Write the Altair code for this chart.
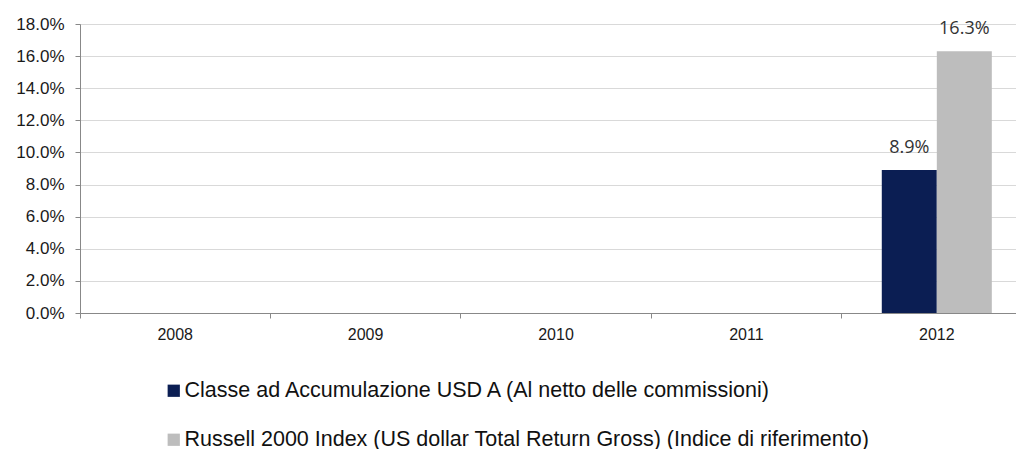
import altair as alt
import pandas as pd

years = ["2008", "2009", "2010", "2011", "2012"]
series = [
    "Classe ad Accumulazione USD A (Al netto delle commissioni)",
    "Russell 2000 Index (US dollar Total Return Gross) (Indice di riferimento)",
]
fund_values = [None, None, None, None, 0.089]
index_values = [None, None, None, None, 0.163]
colors = ["#0B1E53", "#BDBDBD"]
y_ticks = [0.0, 0.02, 0.04, 0.06, 0.08, 0.10, 0.12, 0.14, 0.16, 0.18]

rows = []
for i, y in enumerate(years):
    rows.append({"year": y, "series": series[0], "value": fund_values[i]})
    rows.append({"year": y, "series": series[1], "value": index_values[i]})
df = pd.DataFrame(rows)

x_scale = alt.Scale(domain=years, range=[0, 952], paddingInner=0, paddingOuter=0)
y_scale = alt.Scale(domain=[0, 0.18], nice=False, zero=True)

x_enc = alt.X(
    "year:N",
    scale=x_scale,
    axis=alt.Axis(
        title=None,
        labelAngle=0,
        bandPosition=0,
        ticks=True,
        tickSize=5,
        tickColor="#888888",
        domainColor="#888888",
        labelFont="Liberation Sans",
        labelFontSize=16,
        labelColor="#1a1a1a",
        labelPadding=8,
        grid=False,
    ),
)
xoff = alt.XOffset(
    "series:N",
    sort=series,
    scale=alt.Scale(domain=series, paddingInner=0, paddingOuter=0.73),
)
y_enc = alt.Y(
    "value:Q",
    scale=y_scale,
    axis=alt.Axis(
        title=None,
        values=y_ticks,
        format=".1%",
        labelOverlap=False,
        tickSize=5,
        tickColor="#888888",
        domainColor="#888888",
        gridColor="#d9d9d9",
        labelFont="Liberation Sans",
        labelFontSize=17,
        labelColor="#1a1a1a",
        labelPadding=11,
    ),
)

bars = alt.Chart(df).mark_bar(size=55).encode(
    x=x_enc,
    xOffset=xoff,
    y=y_enc,
    color=alt.Color(
        "series:N",
        scale=alt.Scale(domain=series, range=colors),
        legend=alt.Legend(
            title=None,
            orient="none",
            direction="vertical",
            legendX=83,
            legendY=356,
            symbolType="square",
            symbolSize=150,
            symbolStrokeWidth=0,
            labelFont="Liberation Sans",
            labelFontSize=21.5,
            labelColor="#111111",
            labelLimit=900,
            labelOffset=0,
            rowPadding=26,
            padding=0,
        ),
    ),
)

labels = alt.Chart(df).mark_text(
    baseline="alphabetic",
    dy=-17,
    font="Open Sans",
    fontSize=18,
    color="#333333",
).encode(
    x=x_enc,
    xOffset=xoff,
    y=y_enc,
    text=alt.Text("value:Q", format=".1%"),
)

chart = (
    alt.layer(bars, labels)
    .properties(
        width=936,
        height=289,
        autosize=alt.AutoSizeParams(type="none"),
        padding={"left": 72, "top": 16, "right": 0, "bottom": 136},
    )
    .configure_view(stroke=None)
    .configure(background="white")
)

chart.save("out.html", embed_options={"renderer": "svg", "actions": False})
